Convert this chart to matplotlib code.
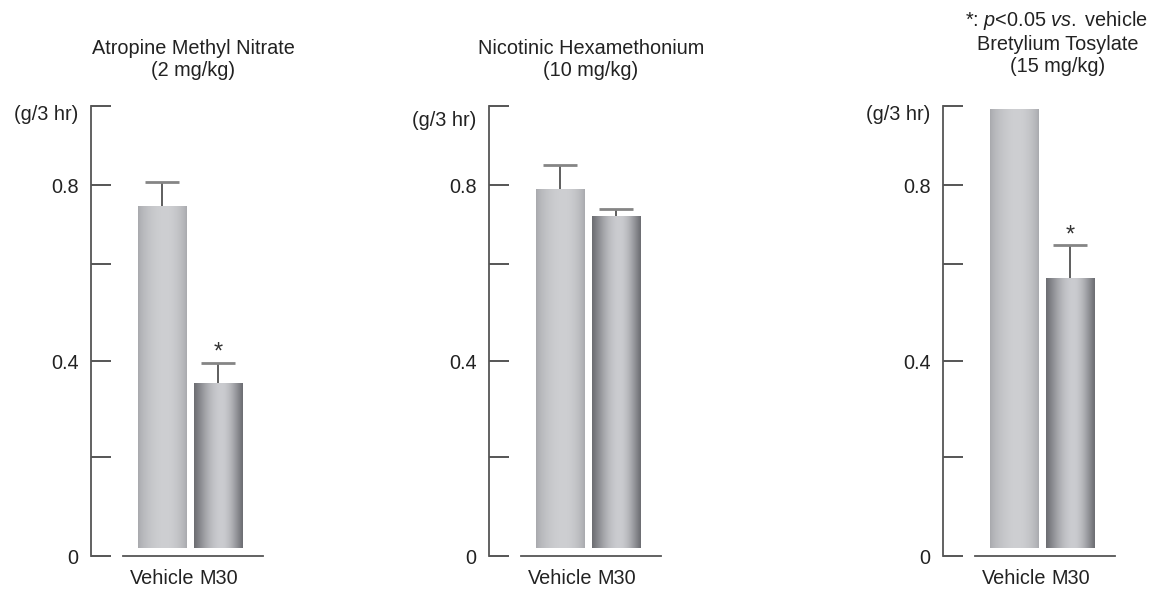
import numpy as np
import matplotlib
matplotlib.use("Agg")
import matplotlib.pyplot as plt
from matplotlib.patches import Rectangle
from matplotlib.transforms import offset_copy

plt.rcParams['font.family'] = ['Liberation Sans', 'DejaVu Sans']
plt.rcParams['mathtext.fontset'] = 'custom'
plt.rcParams['mathtext.rm'] = 'Liberation Sans'
plt.rcParams['mathtext.it'] = 'Liberation Sans:italic'

# Data (bar tops and upper error, g/3 hr)
groups = ['Vehicle', 'M30']
titles = ['Atropine Methyl Nitrate\n(2 mg/kg)',
          'Nicotinic Hexamethonium\n(10 mg/kg)',
          'Bretylium Tosylate\n(15 mg/kg)']
vehicle_vals = [0.755, 0.791, 0.964]
vehicle_err = [0.051, 0.052, 0.0]
m30_vals = [0.373, 0.733, 0.599]
m30_err = [0.043, 0.015, 0.071]
significant = [True, False, True]

# y ticks as they sit in the original drawing
tick_values = [0, 0.2135, 0.4205, 0.6296, 0.8, 0.9704]
tick_labels = ['0', '', '0.4', '', '0.8', '']
bar_bottom = 0.017

W, H = 1151, 589
fig = plt.figure(figsize=(W / 100, H / 100), dpi=100)

panel_left = [123, 521, 975]    # pixel x of the baseline start
ax_w, ax_top, ax_bot = 140, 106, 556

edge_col = '#555555'
txt_col = '#222222'
fs = 14.3


def gradient_bar(ax, x, top, width, edge, centre, power):
    # shaded, cylinder-like bar, highlight a bit right of centre
    t = np.linspace(0, 1, 256)
    p = 0.56
    shade = np.where(t < p, np.sin(np.pi / 2 * t / p),
                     np.sin(np.pi / 2 * (1 - t) / (1 - p))) ** power
    c0 = np.array(matplotlib.colors.to_rgb(edge))
    c1 = np.array(matplotlib.colors.to_rgb(centre))
    img = c0[None, :] + (c1 - c0)[None, :] * shade[:, None]
    img = img[None, :, :]
    rect = Rectangle((x - width / 2, bar_bottom), width, top - bar_bottom,
                     facecolor='none', edgecolor='none')
    ax.add_patch(rect)
    im = ax.imshow(img, extent=[x - width / 2, x + width / 2, bar_bottom, top],
                   aspect='auto', zorder=2, interpolation='bilinear')
    im.set_clip_path(rect)


def error_up(ax, x, top, err, star):
    if err <= 0:
        return
    line, caps, bars = ax.errorbar([x], [top], yerr=[[0], [err]], fmt='none',
                                   ecolor='#333333', elinewidth=1.1,
                                   capsize=11.9, capthick=2, zorder=3)
    caps[0].set_visible(False)
    caps[1].set_markeredgecolor('#858585')
    if star:
        ax.annotate('*', (x, top + err), xytext=(0, 3.0),
                    textcoords='offset points', ha='center', va='baseline',
                    fontsize=17, color='#333333')


for i in range(3):
    ax = fig.add_axes([panel_left[i] / W, (H - ax_bot) / H,
                       ax_w / W, (ax_bot - ax_top) / H])
    x = np.arange(len(groups))
    width = 0.875
    ax.set_xlim(-0.705, 1.795)
    ax.set_ylim(0, tick_values[-1])

    gradient_bar(ax, x[0], vehicle_vals[i], width, '#a7a8ac', '#cecfd2', 0.7)
    gradient_bar(ax, x[1], m30_vals[i], width, '#6c6d72', '#cbccd0', 1.1)
    error_up(ax, x[0], vehicle_vals[i], vehicle_err[i], False)
    error_up(ax, x[1], m30_vals[i], m30_err[i], significant[i])

    for s in ['top', 'right']:
        ax.spines[s].set_visible(False)
    ax.spines['left'].set_position(('outward', 22.7))
    ax.spines['left'].set_color(edge_col)
    ax.spines['left'].set_linewidth(1.3)
    ax.spines['bottom'].set_color(edge_col)
    ax.spines['bottom'].set_linewidth(1.3)

    ax.set_yticks(tick_values)
    ax.set_yticklabels(tick_labels)
    ax.tick_params(axis='y', direction='in', length=14.4, width=1.4,
                   color=edge_col, pad=9.4, labelsize=fs, labelcolor=txt_col)
    ax.set_xticks(x)
    ax.set_xticklabels(groups)
    ax.tick_params(axis='x', length=0, pad=9, labelsize=fs, labelcolor=txt_col)

    # unit label, left of the offset spine
    unit_y = 1.0 if i != 1 else 0.985
    ax.text(0, unit_y, '(g/3 hr)', fontsize=fs, color=txt_col, ha='right', va='top',
            transform=offset_copy(ax.transAxes, fig=fig, x=-32.1, y=1, units='points'))

title_x = [193, 591, 1058]
title_y = [60, 60, 56]
for i in range(3):
    fig.text(title_x[i] / W, 1 - title_y[i] / H, titles[i], fontsize=fs,
             color=txt_col, ha='center', va='center', linespacing=1.2)

fig.text(1148 / W, 1 - 20 / H, r'*: $\it{p}$<0.05 $\it{vs.}$ vehicle', fontsize=fs,
         color=txt_col, ha='right', va='center')

fig.savefig('out.png', dpi=100)
